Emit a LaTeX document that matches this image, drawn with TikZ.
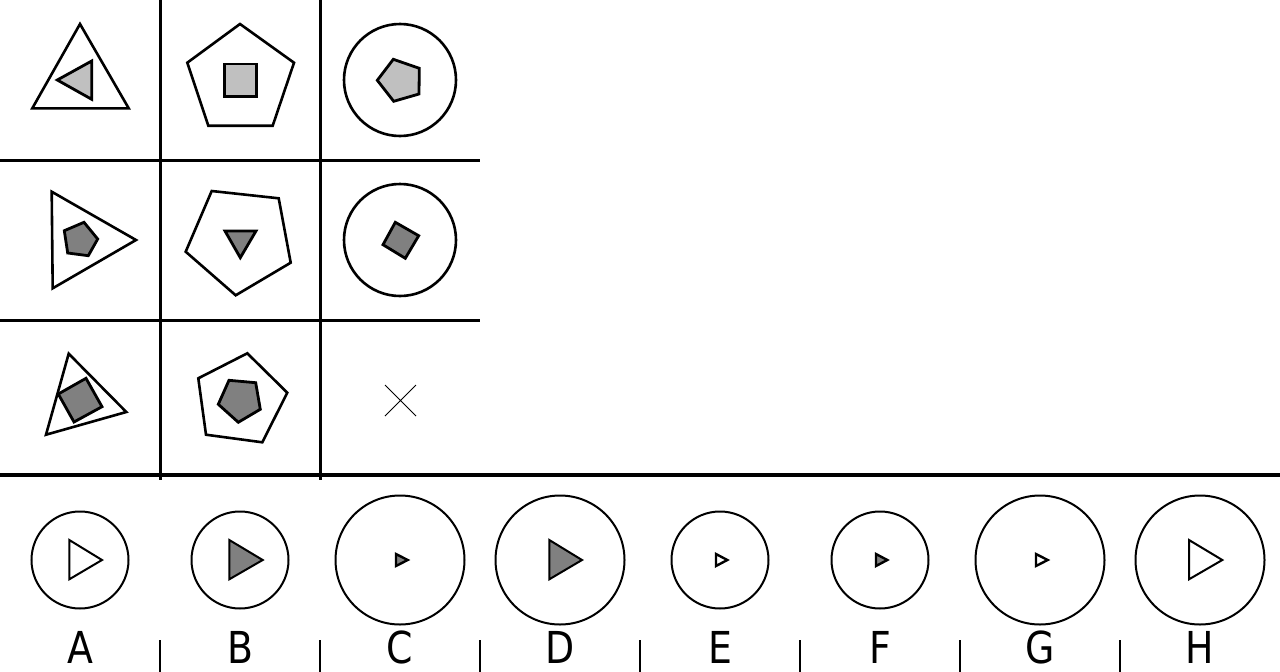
\documentclass[tikz,border=0pt]{standalone}
\usepackage{fontspec}
\setmainfont{DejaVu Sans}
\newfontfamily\lblfont[FakeStretch=0.86]{DejaVu Sans}
\definecolor{lightfill}{RGB}{192,192,192}
\definecolor{darkfill}{RGB}{128,128,128}
\begin{document}
\begin{tikzpicture}[x=1pt,y=-1pt,
  gridline/.style={line width=3pt},
  outer/.style={line width=2.6pt, line join=miter},
  inner/.style={line width=2.8pt, line join=miter},
  ans/.style={line width=2pt},
  small/.style={line width=2.4pt},
  lfill/.style={fill=lightfill},
  dfill/.style={fill=darkfill},
  lbl/.style={anchor=base, font=\lblfont\fontsize{44}{44}\selectfont, inner sep=0pt}]
\useasboundingbox[fill=white] (0,0) rectangle (1280,672);
% grid
\draw[gridline] (160,0) -- (160,480);
\draw[gridline] (320,0) -- (320,480);
\draw[gridline] (0,160) -- (480,160);
\draw[gridline] (0,320) -- (480,320);
\draw[line width=4.5pt] (0,475) -- (1280,475);
% row 1
\draw[outer] (80,24) -- (128.7,108.3) -- (32.3,108.3) -- cycle;
\draw[inner,lfill] (57.3,80) -- (91.7,61) -- (91.7,99.3) -- cycle;
\draw[outer] (240,24) -- (294,62.7) -- (272.7,125.7) -- (208.3,125.7) -- (187.3,62.7) -- cycle;
\draw[inner,lfill] (224.3,64) rectangle (256.7,96.7);
\draw[outer] (400,80) circle[radius=56];
\draw[inner,lfill] (393.3,59.3) -- (419.3,68.3) -- (419,94) -- (393.7,101.3) -- (377.3,80.3) -- cycle;
% row 2
\draw[outer] (51.7,191.7) -- (136,240) -- (52.7,288.3) -- cycle;
\draw[inner,dfill] (84,222.3) -- (97.7,239) -- (88.3,255.7) -- (67.7,253) -- (64.3,230.7) -- cycle;
\draw[outer] (211.7,191) -- (278.7,198.3) -- (290.7,262.7) -- (235.7,295.3) -- (185.7,251.7) -- cycle;
\draw[inner,dfill] (225,231) -- (256,231) -- (240.3,257.7) -- cycle;
\draw[outer] (400,240) circle[radius=56];
\draw[inner,dfill] (395.3,222.3) -- (418.7,235.7) -- (405.3,258.3) -- (383,244.7) -- cycle;
% row 3
\draw[outer] (68.7,353.7) -- (126.3,412) -- (46,434.7) -- cycle;
\draw[inner,dfill] (86,378.3) -- (102,406.7) -- (74,422) -- (58.3,394) -- cycle;
\draw[outer] (247.3,353.3) -- (287.3,392.7) -- (262.3,442.3) -- (206,434.7) -- (198.3,378.3) -- cycle;
\draw[inner,dfill] (229,380.3) -- (255.7,382.7) -- (260.3,409.3) -- (238.3,422.3) -- (218.3,404.3) -- cycle;
\draw[line width=0.9pt] (385,385) -- (416,416) (416,385) -- (385,416);
% answers
\draw[ans] (80,560) circle[radius=48.5];
\draw[ans,fill=white] (69.3,540) -- (102,560) -- (69.3,579.3) -- cycle;
\draw[ans] (240,560) circle[radius=48.5];
\draw[ans,dfill] (229.3,540) -- (262.7,560) -- (229.3,579.3) -- cycle;
\draw[ans] (400,560) circle[radius=64.5];
\draw[small,dfill] (396,554) -- (407.7,560) -- (396,566) -- cycle;
\draw[ans] (560,560) circle[radius=64.5];
\draw[ans,dfill] (549.3,540) -- (582,560) -- (549.3,579.3) -- cycle;
\draw[ans] (720,560) circle[radius=48.5];
\draw[small,fill=white] (716,554) -- (727.3,560) -- (716,566) -- cycle;
\draw[ans] (880,560) circle[radius=48.5];
\draw[small,dfill] (876,554) -- (887.3,560) -- (876,566) -- cycle;
\draw[ans] (1040,560) circle[radius=64.5];
\draw[small,fill=white] (1036,554) -- (1047.7,560) -- (1036,566) -- cycle;
\draw[ans] (1200,560) circle[radius=64.5];
\draw[ans,fill=white] (1189,540) -- (1222.3,560) -- (1189,579.3) -- cycle;
% separators
\foreach \x in {160,320,480,640,800,960,1120}
  \draw[line width=1.8pt] (\x,640) -- (\x,672);
% labels
\node[lbl] (la) at (80,663) {A};
\node[lbl] (lb) at (240,663) {B};
\node[lbl] (lc) at (400,663) {C};
\node[lbl] (ld) at (560,663) {D};
\node[lbl] (le) at (720,663) {E};
\node[lbl] (lf) at (880,663) {F};
\node[lbl] (lg) at (1040,663) {G};
\node[lbl] (lh) at (1200,663) {H};
\end{tikzpicture}
\end{document}
